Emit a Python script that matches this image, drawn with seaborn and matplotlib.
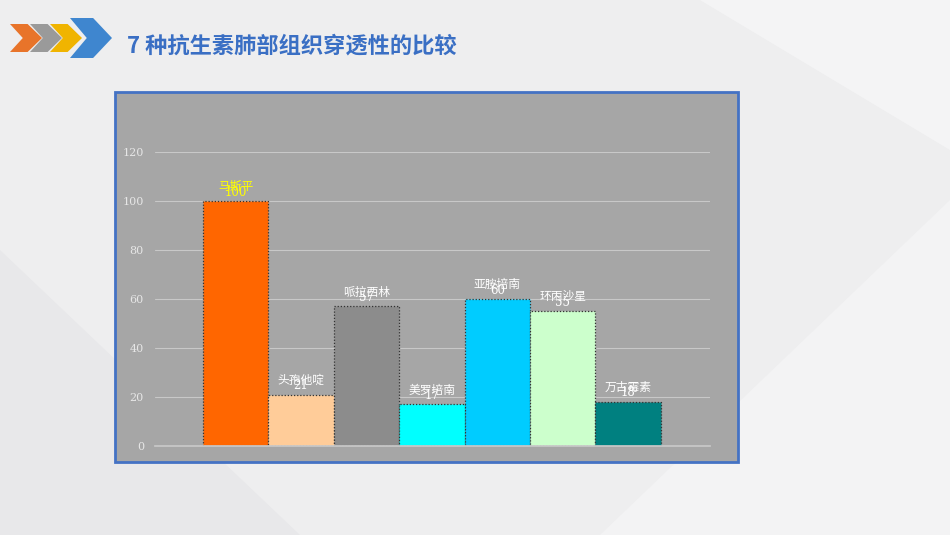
import matplotlib
matplotlib.use("Agg")
import matplotlib.pyplot as plt
from matplotlib.patches import Rectangle, Polygon
import seaborn as sns
import pandas as pd

drugs = ["马斯平", "头孢他啶", "哌拉西林", "美罗培南", "亚胺培南", "环丙沙星", "万古霉素"]
values = [100, 21, 57, 17, 60, 55, 18]
colors = ["#ff6600", "#ffcc99", "#8c8c8c", "#00ffff", "#00ccff", "#ccffcc", "#008080"]
label_colors = ["#ffff00"] + ["white"] * 6
yticks = [0, 20, 40, 60, 80, 100, 120]

sns.set_theme(style="white")
plt.rcParams['font.family'] = ['Noto Sans CJK SC', 'DejaVu Sans']

W, H = 950, 535
fig = plt.figure(figsize=(9.5, 5.35), dpi=100)
fig.patch.set_facecolor("#eeeeef")

def fx(x): return x / W
def fy(y): return 1 - y / H

for pts, c in [([(0, 535), (300, 535), (0, 250)], "#e8e8ea"),
               ([(600, 535), (950, 535), (950, 200)], "#f3f3f4"),
               ([(700, 0), (950, 0), (950, 150)], "#f4f4f5")]:
    fig.patches.append(Polygon([(fx(a), fy(b)) for a, b in pts], closed=True,
                               transform=fig.transFigure, facecolor=c, edgecolor="none", zorder=0))

arrow_cols = ["#e8742a", "#9a9a9a", "#f0b400", "#3f86cf"]
for i, c in enumerate(arrow_cols):
    x0 = 10 + i * 20
    w = 32 if i < 3 else 42
    h = 28 if i < 3 else 40
    cy = 38
    pts = [(x0, cy - h / 2), (x0 + w * 0.55, cy - h / 2), (x0 + w, cy), (x0 + w * 0.55, cy + h / 2),
           (x0, cy + h / 2), (x0 + w * 0.4, cy)]
    fig.patches.append(Polygon([(fx(a), fy(b)) for a, b in pts], closed=True,
                               transform=fig.transFigure, facecolor=c, edgecolor="none", zorder=2))

fig.text(fx(127), fy(46), "7 种抗生素肺部组织穿透性的比较", color="#3a6fc4",
         fontsize=16, fontweight="bold", va="center", ha="left")

fig.patches.append(Rectangle((fx(115), fy(462)), fx(738) - fx(115), fy(92) - fy(462),
                             transform=fig.transFigure, facecolor="#a6a6a6",
                             edgecolor="#4472c4", linewidth=2, zorder=1))

ax = fig.add_axes([fx(155), fy(446), fx(710) - fx(155), fy(152) - fy(446)])
ax.set_facecolor("none")
ax.set_zorder(3)
df = pd.DataFrame({"drug": drugs, "value": values})
sns.barplot(data=df, x="drug", y="value", hue="drug", palette=colors, legend=False,
            width=1.0, ax=ax, edgecolor="#333333", linewidth=0.9, saturation=1)
for p in ax.patches:
    p.set_linestyle((0, (1, 1.5)))
ax.set_xlim(-1.23, 7.25)
ax.set_ylim(0, 120)
ax.set_yticks(yticks)
ax.set_yticklabels([str(t) for t in yticks], color="#e6e6e6", fontsize=8, family="DejaVu Serif")
ax.tick_params(axis="y", length=0, pad=8)
ax.set_xticks([])
ax.set_xlabel("")
ax.set_ylabel("")
ax.grid(axis="y", color="#c8c8c8", linewidth=0.8)
ax.set_axisbelow(True)
for s in ["top", "right", "left"]:
    ax.spines[s].set_visible(False)
ax.spines["bottom"].set_color("#c8c8c8")

for i, (d, v) in enumerate(zip(drugs, values)):
    ax.text(i, v + 3.2, " ".join(d).replace(" ", "\u2009") if False else d, ha="center", va="bottom",
            fontsize=8.5, color=label_colors[i])
    ax.text(i, v + 1.0, str(v), ha="center", va="bottom", fontsize=8.5,
            color=label_colors[i], family="DejaVu Serif")

fig.savefig("out.png", dpi=100, facecolor=fig.get_facecolor())
